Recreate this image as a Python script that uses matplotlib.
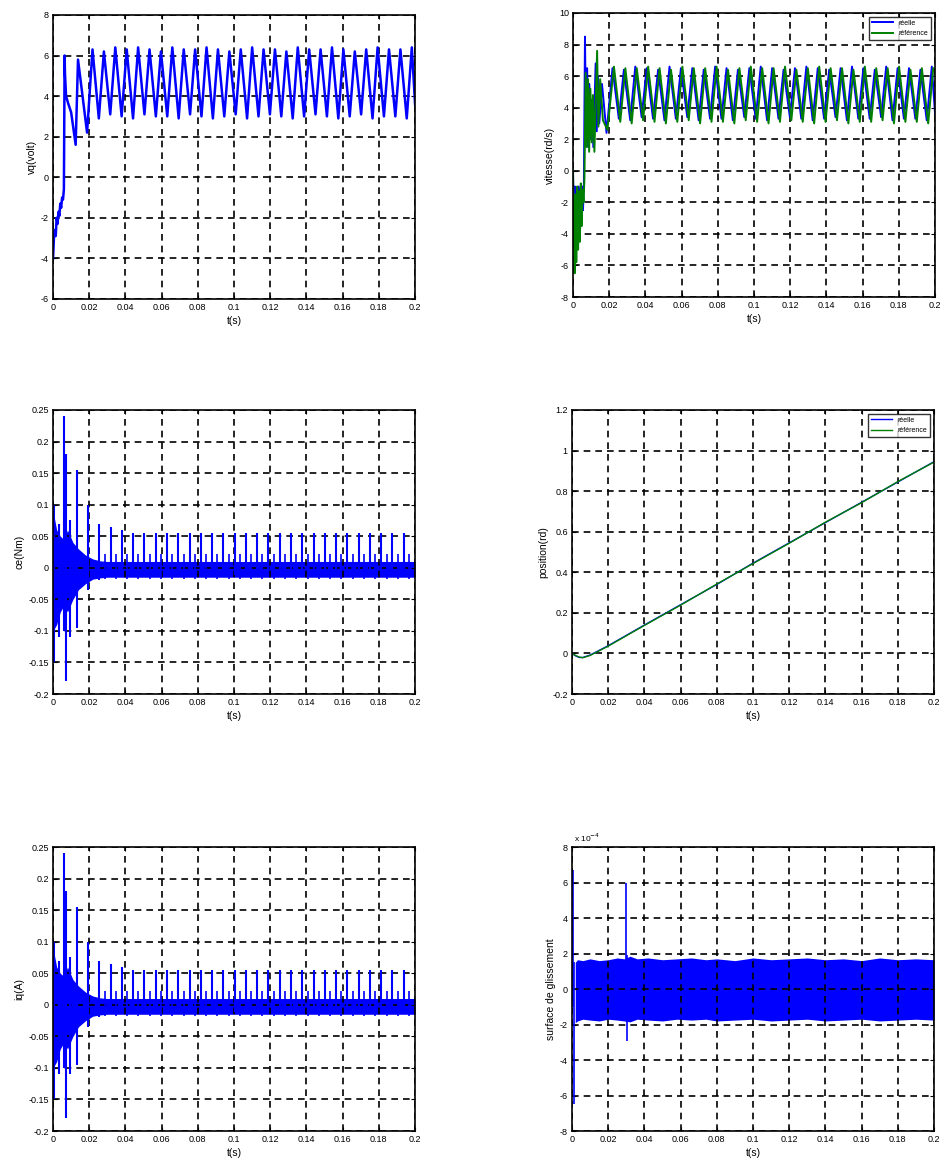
import numpy as np
import matplotlib
matplotlib.use("Agg")
import matplotlib.pyplot as plt
from matplotlib.ticker import MultipleLocator, FuncFormatter

plt.rcParams['font.family'] = ['Liberation Sans', 'DejaVu Sans']

# ---------------- data ----------------
# vq(volt): start-up part, then a saw-tooth between ~3 and ~6.3
vq_t0 = [0, 0.0005, 0.001, 0.0015, 0.002, 0.0025, 0.003, 0.0035, 0.004, 0.0045,
         0.005, 0.0055, 0.006, 0.0064, 0.0066, 0.0072, 0.0085, 0.0100, 0.0125,
         0.0138, 0.0188]
vq_v0 = [-4.0, -3.0, -2.6, -2.9, -2.0, -2.3, -1.7, -1.9, -1.3, -1.5,
         -1.0, -1.1, -0.6, 6.0, 5.1, 4.0, 3.6, 3.2, 1.6,
         5.8, 2.2]
pk_t = [0.0218, 0.0281, 0.0344, 0.0407, 0.0470, 0.0533, 0.0596, 0.0659, 0.0722,
        0.0785, 0.0848, 0.0911, 0.0974, 0.1037, 0.1100, 0.1163, 0.1226, 0.1289,
        0.1352, 0.1415, 0.1478, 0.1541, 0.1604, 0.1667, 0.1730, 0.1793, 0.1856,
        0.1919, 0.1982]
tr_t = [0.0253, 0.0316, 0.0379, 0.0442, 0.0505, 0.0568, 0.0631, 0.0694, 0.0757,
        0.0820, 0.0883, 0.0946, 0.1009, 0.1072, 0.1135, 0.1198, 0.1261, 0.1324,
        0.1387, 0.1450, 0.1513, 0.1576, 0.1639, 0.1702, 0.1765, 0.1828, 0.1891,
        0.1954, 0.2000]
vq_pk = [6.3, 6.2, 6.4, 6.3, 6.4, 6.3, 6.2, 6.4, 6.3, 6.3, 6.4, 6.3, 6.2, 6.3,
         6.4, 6.3, 6.3, 6.2, 6.4, 6.3, 6.3, 6.4, 6.3, 6.2, 6.3, 6.4, 6.3, 6.3, 6.4]
vq_tr = [2.9, 3.1, 3.0, 2.9, 3.1, 3.0, 3.0, 2.9, 3.1, 3.0, 2.9, 3.0, 3.1, 2.9,
         3.0, 3.1, 3.0, 2.9, 3.0, 3.1, 3.0, 2.9, 3.0, 3.1, 2.9, 3.0, 3.0, 2.9, 3.6]

# vitesse(rd/s): réelle (blue) and référence (green)
vr_t0 = [0, 0.0005, 0.001, 0.0015, 0.002, 0.0025, 0.003, 0.0035, 0.004, 0.0045,
         0.005, 0.0055, 0.006, 0.0066, 0.0072, 0.0078, 0.0085, 0.0090, 0.0097,
         0.0105, 0.0112, 0.0125, 0.0131, 0.0138, 0.0145, 0.0160, 0.0185]
vr_v0 = [0, -4.5, -1.0, -5.5, -1.2, -4.8, -1.0, -4.2, -1.2, -3.5,
         -1.0, -2.5, -0.8, 8.5, 2.5, 6.5, 1.5, 5.5, 2.0,
         4.5, 1.5, 6.8, 2.5, 6.0, 3.0, 5.5, 2.4]
vf_t0 = [0, 0.0004, 0.0009, 0.0013, 0.0018, 0.0023, 0.0028, 0.0033, 0.0038,
         0.0043, 0.0048, 0.0053, 0.0058, 0.0063, 0.0070, 0.0076, 0.0083, 0.0089,
         0.0096, 0.0103, 0.0110, 0.0118, 0.0133, 0.0140, 0.0150, 0.0165, 0.0190]
vf_v0 = [0, -3.5, -6.5, -1.5, -5.8, -1.0, -5.0, -1.3, -4.5, -0.8,
         -3.5, -1.2, -2.0, -0.5, 6.2, 1.5, 5.8, 1.2, 5.2,
         1.8, 4.8, 1.2, 7.6, 2.8, 5.8, 3.2, 2.6]
vr_pk = [6.5, 6.4, 6.6, 6.5, 6.4, 6.6, 6.5, 6.5, 6.4, 6.6, 6.5, 6.4, 6.5, 6.6,
         6.5, 6.4, 6.5, 6.6, 6.5, 6.4, 6.5, 6.6, 6.5, 6.4, 6.6, 6.5, 6.5, 6.4, 6.6]
vr_tr = [3.3, 3.2, 3.4, 3.3, 3.2, 3.3, 3.4, 3.2, 3.3, 3.3, 3.2, 3.4, 3.3, 3.2,
         3.3, 3.4, 3.3, 3.2, 3.3, 3.4, 3.2, 3.3, 3.3, 3.4, 3.2, 3.3, 3.3, 3.2, 3.6]
vf_pk = [6.6, 6.5, 6.5, 6.6, 6.5, 6.4, 6.6, 6.5, 6.5, 6.6, 6.4, 6.5, 6.6, 6.5,
         6.5, 6.6, 6.4, 6.5, 6.6, 6.5, 6.5, 6.4, 6.6, 6.5, 6.5, 6.6, 6.4, 6.5, 6.5]
vf_tr = [3.1, 3.0, 3.2, 3.1, 3.0, 3.1, 3.2, 3.0, 3.1, 3.1, 3.0, 3.2, 3.1, 3.0,
         3.1, 3.2, 3.1, 3.0, 3.1, 3.2, 3.0, 3.1, 3.1, 3.2, 3.0, 3.1, 3.1, 3.0, 3.4]
ref_lag = 0.0008

# ce(Nm) and iq(A): dense band plus spikes
ce_band_t = [0, 0.002, 0.004, 0.006, 0.008, 0.011, 0.014, 0.018, 0.022, 0.026, 0.030, 0.200]
ce_band_hi = [0.09, 0.06, 0.05, 0.045, 0.06, 0.04, 0.03, 0.02, 0.014, 0.011, 0.010, 0.010]
ce_band_lo = [-0.10, -0.09, -0.07, -0.06, -0.07, -0.05, -0.035, -0.025, -0.018, -0.016, -0.015, -0.015]
sp_t = [0.0008, 0.0035, 0.0062, 0.0070, 0.0095, 0.0132, 0.0194, 0.0256, 0.0318, 0.0380,
        0.0442, 0.0504, 0.0567, 0.0629, 0.0691, 0.0754, 0.0816, 0.0878, 0.0940,
        0.1003, 0.1065, 0.1127, 0.1190, 0.1252, 0.1314, 0.1377, 0.1439, 0.1501,
        0.1563, 0.1626, 0.1688, 0.1750, 0.1813, 0.1875, 0.1937]
sp_hi = [0.10, 0.07, 0.24, 0.18, 0.075, 0.155, 0.10, 0.07, 0.065, 0.06,
         0.055, 0.055, 0.055, 0.055, 0.055, 0.055, 0.055, 0.055, 0.055,
         0.055, 0.055, 0.055, 0.055, 0.055, 0.055, 0.055, 0.055, 0.055,
         0.055, 0.055, 0.055, 0.055, 0.055, 0.055, 0.055]
sp_lo = [-0.15, -0.11, -0.10, -0.18, -0.11, -0.095, -0.035, -0.02, -0.015, -0.015,
         -0.012, -0.012, -0.012, -0.012, -0.012, -0.012, -0.012, -0.012, -0.012,
         -0.012, -0.012, -0.012, -0.012, -0.012, -0.012, -0.012, -0.012, -0.012,
         -0.012, -0.012, -0.012, -0.012, -0.012, -0.012, -0.012]
bump_t = [0.0286, 0.0348, 0.0410, 0.0472, 0.0534, 0.0597, 0.0659, 0.0721, 0.0784,
          0.0846, 0.0908, 0.0970, 0.1033, 0.1095, 0.1157, 0.1220, 0.1282, 0.1344,
          0.1407, 0.1469, 0.1531, 0.1593, 0.1656, 0.1718, 0.1780, 0.1843, 0.1905, 0.1967]
bump_hi = 0.022
bump_lo = -0.018

# position(rd)
pos_t = [0, 0.002, 0.004, 0.006, 0.010, 0.020, 0.040, 0.060, 0.080, 0.100,
         0.120, 0.140, 0.160, 0.180, 0.200]
pos_reel = [0, -0.012, -0.02, -0.02, -0.008, 0.038, 0.14, 0.24, 0.34, 0.445,
            0.545, 0.645, 0.745, 0.845, 0.945]
pos_ref = [0, -0.010, -0.018, -0.021, -0.010, 0.036, 0.138, 0.238, 0.342, 0.443,
           0.543, 0.647, 0.743, 0.847, 0.943]

# surface de glissement (x 1e-4)
s_t = [0.0018, 0.003, 0.006, 0.010, 0.015, 0.020, 0.025, 0.029, 0.032, 0.036,
       0.042, 0.050, 0.058, 0.066, 0.074, 0.080, 0.090, 0.100, 0.110, 0.120,
       0.130, 0.140, 0.150, 0.160, 0.170, 0.180, 0.190, 0.200]
s_hi = [1.5, 1.65, 1.6, 1.7, 1.6, 1.65, 1.75, 1.7, 1.85, 1.7,
        1.75, 1.65, 1.7, 1.75, 1.65, 1.7, 1.6, 1.75, 1.65, 1.7,
        1.75, 1.65, 1.7, 1.6, 1.75, 1.65, 1.7, 1.65]
s_lo = [-1.9, -1.8, -1.7, -1.75, -1.8, -1.7, -1.75, -1.8, -1.85, -1.7,
        -1.75, -1.8, -1.7, -1.75, -1.7, -1.8, -1.75, -1.7, -1.8, -1.75,
        -1.7, -1.8, -1.75, -1.7, -1.8, -1.75, -1.7, -1.75]
s_sp_t = [0.0008, 0.0013, 0.0298, 0.0302]
s_sp_hi = [6.7, 1.5, 6.0, 1.9]
s_sp_lo = [-1.0, -6.5, -0.5, -2.9]

BLUE = '#0000ff'
GREEN = (0, 0.5, 0)


def zigzag(t0, v0, tp, vp, tt, vt, lag=0.0):
    t = np.column_stack([np.array(tp) + lag, np.array(tt) + lag]).ravel()
    v = np.column_stack([vp, vt]).ravel()
    return np.r_[t0, t], np.r_[v0, v]


def style(ax, ylim, ystep, ylabel, scale=1.0):
    ax.set_xlim(0, 0.2)
    ax.set_ylim(*ylim)
    ax.xaxis.set_major_locator(MultipleLocator(0.02))
    ax.yaxis.set_major_locator(MultipleLocator(ystep))
    ax.xaxis.set_major_formatter(FuncFormatter(lambda v, p: '%g' % (round(v, 6) + 0.0)))
    ax.yaxis.set_major_formatter(FuncFormatter(lambda v, p: '%g' % (round(v * scale, 6) + 0.0)))
    ax.tick_params(direction='in', length=3, labelsize=6.5, top=True, right=True, pad=3)
    ax.grid(True, color='k', linestyle=(0, (4, 3)), linewidth=1.2)
    for s in ax.spines.values():
        s.set_linewidth(1.2)
    ax.set_xlabel('t(s)', fontsize=7.5, labelpad=3)
    ax.set_ylabel(ylabel, fontsize=7.5, labelpad=3)


fig = plt.figure(figsize=(9.47, 11.67), dpi=100)
W, H = 0.3823, 0.2434
ax1 = fig.add_axes([0.0560, 0.7438, W, H])
ax2 = fig.add_axes([0.6051, 0.7455, W, H])
ax3 = fig.add_axes([0.0560, 0.4053, W, H])
ax4 = fig.add_axes([0.6040, 0.4053, W, H])
ax5 = fig.add_axes([0.0560, 0.0308, W, H])
ax6 = fig.add_axes([0.6040, 0.0308, W, H])

# vq
t, v = zigzag(vq_t0, vq_v0, pk_t, vq_pk, tr_t, vq_tr)
ax1.plot(t, v, color=BLUE, lw=1.8)
style(ax1, (-6, 8), 2, 'vq(volt)')

# vitesse
t, v = zigzag(vr_t0, vr_v0, pk_t, vr_pk, tr_t, vr_tr)
ax2.plot(t, v, color=BLUE, lw=1.4, label='réelle')
t, v = zigzag(vf_t0, vf_v0, pk_t, vf_pk, tr_t, vf_tr, lag=ref_lag)
ax2.plot(t[t <= 0.2], v[t <= 0.2], color=GREEN, lw=1.4, label='référence')
style(ax2, (-8, 10), 2, 'vitesse(rd/s)')
leg = ax2.legend(loc='upper right', fontsize=5, fancybox=False, edgecolor='k',
                 borderaxespad=0.6, handlelength=3)
leg.get_frame().set_linewidth(1.0)

# ce and iq
for ax, lab in [(ax3, 'ce(Nm)'), (ax5, 'iq(A)')]:
    ax.fill_between(ce_band_t, ce_band_lo, ce_band_hi, color=BLUE, lw=0)
    ax.vlines(sp_t, sp_lo, sp_hi, color=BLUE, lw=1.5)
    ax.vlines(bump_t, bump_lo, bump_hi, color=BLUE, lw=1.2)
    style(ax, (-0.2, 0.25), 0.05, lab)

# position
ax4.plot(pos_t, pos_reel, color=BLUE, lw=1.0, label='réelle')
ax4.plot(pos_t, pos_ref, color=GREEN, lw=1.0, label='référence')
style(ax4, (-0.2, 1.2), 0.2, 'position(rd)')
leg = ax4.legend(loc='upper right', fontsize=5, fancybox=False, edgecolor='k',
                 borderaxespad=0.6, handlelength=3)
leg.get_frame().set_linewidth(1.0)

# surface de glissement
ax6.fill_between(s_t, np.array(s_lo) * 1e-4, np.array(s_hi) * 1e-4, color=BLUE, lw=0)
ax6.vlines(s_sp_t, np.array(s_sp_lo) * 1e-4, np.array(s_sp_hi) * 1e-4, color=BLUE, lw=1.2)
style(ax6, (-8e-4, 8e-4), 2e-4, 'surface de glissement', scale=1e4)
ax6.text(0.005, 1.01, 'x 10$^{-4}$', transform=ax6.transAxes, fontsize=6, va='bottom')

fig.savefig('out.png', dpi=100, facecolor='white')
